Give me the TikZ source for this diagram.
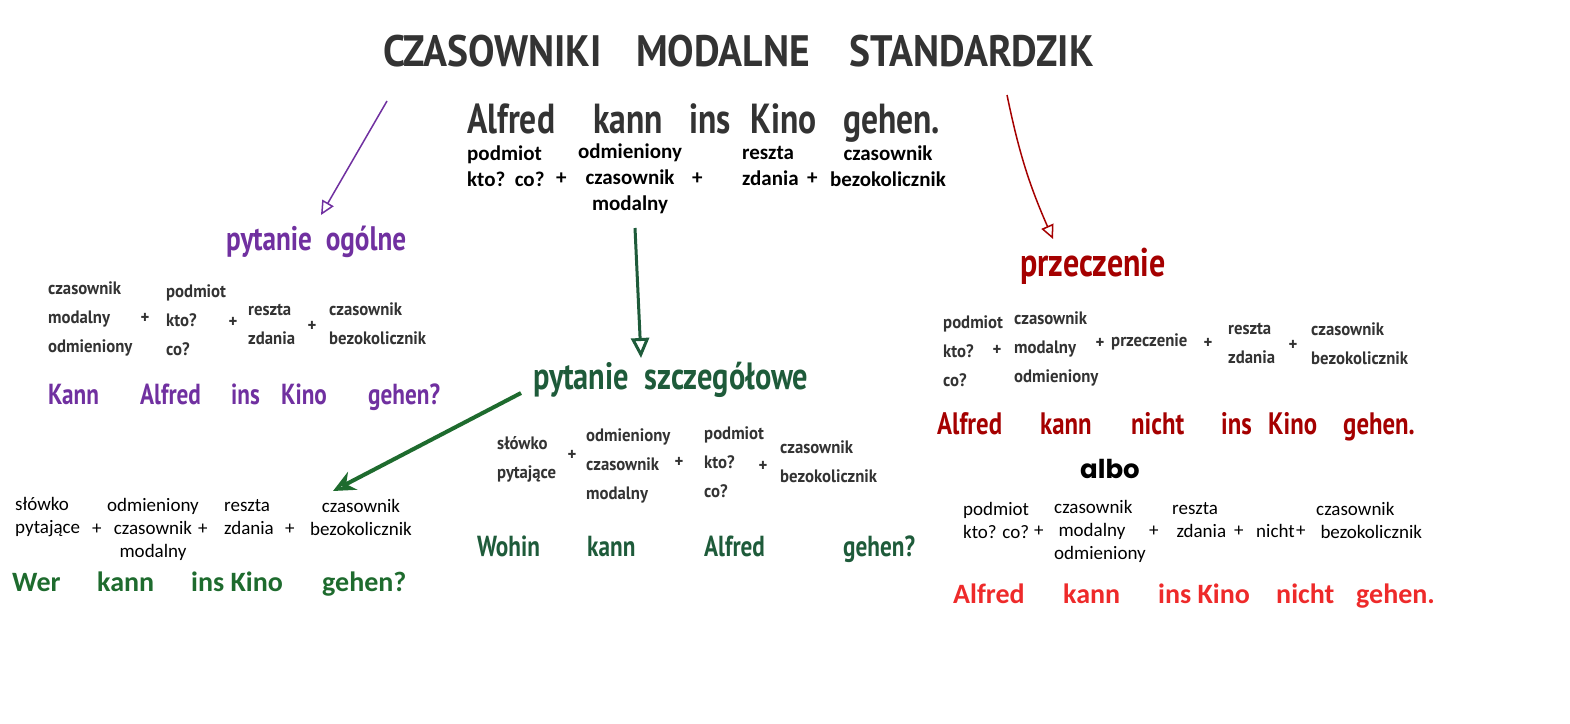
\documentclass[tikz,border=0pt]{standalone}
\usepackage{fontspec}
\usepackage{xcolor}
\usepackage{tikz}
\usetikzlibrary{arrows.meta,positioning}
\newfontfamily\handfont[FakeStretch=0.8]{PT Sans}
\newfontfamily\titlefont[FakeStretch=0.9]{PT Sans}
\newfontfamily\gramfont[FakeStretch=0.93]{PT Sans}
\newfontfamily\calfont{Carlito}
\newfontfamily\albofont{Poppins}
\definecolor{czgray}{HTML}{333333}
\definecolor{czpurple}{HTML}{7030A0}
\definecolor{czgreen}{HTML}{1E5B3A}
\definecolor{czgreenb}{HTML}{1E6B2E}
\definecolor{czred}{HTML}{A50000}
\definecolor{czbright}{HTML}{EE2A2A}
\tikzset{%
  czword/.style={%
    inner sep=0pt,
    anchor=base west
  },
  cztitle/.style={%
    czword,
    text=czgray,
    font=\titlefont\bfseries\fontsize{44}{50}\selectfont
  },
  czmain/.style={%
    czword,
    text=czgray,
    font=\handfont\bfseries\fontsize{42}{48}\selectfont
  },
  czhead/.style={%
    czword,
    font=\handfont\bfseries\fontsize{34}{40}\selectfont
  },
  czsent/.style={%
    czword,
    font=\handfont\bfseries\fontsize{29}{34}\selectfont
  },
  czredsent/.style={%
    czsent,
    text=czred,
    font=\handfont\bfseries\fontsize{31}{36}\selectfont
  },
  czgram/.style={%
    inner sep=0pt,
    anchor=west,
    align=left,
    text=czgray,
    font=\gramfont\bfseries\fontsize{18}{29}\selectfont
  },
  czplus/.style={%
    inner sep=0pt,
    text=czgray,
    font=\gramfont\bfseries\fontsize{18}{20}\selectfont
  },
  czcal/.style={%
    inner sep=0pt,
    anchor=west,
    align=left,
    font=\calfont\fontsize{19}{23}\selectfont
  },
  czcalbf/.style={%
    czcal,
    font=\calfont\bfseries\fontsize{21}{26}\selectfont
  },
  czcalsent/.style={%
    czword,
    font=\calfont\bfseries\fontsize{28}{32}\selectfont
  },
  czarrow/.style={-{Triangle[open,length=14pt,width=13pt]},line width=1.5pt},
  czbigarrow/.style={-{Triangle[open,length=20pt,width=18pt]},line width=3pt}
}

\begin{document}
\begin{tikzpicture}[x=1pt,y=-1pt]
    \useasboundingbox[fill=white] (0,0) rectangle (1570,723);

    % title and model sentence
    \node[cztitle] (titleA) at (383,66) {CZASOWNIKI};
    \node[cztitle] (titleB) at (636,66) {MODALNE};
    \node[cztitle] (titleC) at (849,66) {STANDARDZIK};

    \node[czmain] (mAlfred) at (467,133) {Alfred};
    \node[czmain] (mKann) at (593,133) {kann};
    \node[czmain] (mIns) at (689,133) {ins};
    \node[czmain] (mKino) at (750,133) {Kino};
    \node[czmain] (mGehen) at (843,133) {gehen.};

    \node[czcalbf] (mPodmiot) at (467,166) {podmiot\\kto?\ \ co?};
    \node[czcalbf] (mPlusA) at (556,179) {+};
    \node[czcalbf,anchor=center,align=center] (mCzas) at (630,179) {odmieniony\\czasownik\\modalny};
    \node[czcalbf] (mPlusB) at (692,179) {+};
    \node[czcalbf] (mReszta) at (742,166) {reszta\\zdania};
    \node[czcalbf] (mPlusC) at (807,179) {+};
    \node[czcalbf,anchor=center,align=center] (mBezok) at (888,166) {czasownik\\bezokolicznik};

    % pytanie ogolne
    \coordinate (ogFrom) at (387,101);
    \coordinate (ogTo) at (321,215);
    \node[czhead,text=czpurple] (ogolne) at (226,250) {pytanie\ \ ogólne};
    \draw[czarrow,draw=czpurple] (ogFrom) -- (ogTo);

    \node[czgram] (ogCzas) at (48,319) {czasownik\\modalny\\odmieniony};
    \node[czplus] (ogPlusA) at (145,318) {+};
    \node[czgram] (ogPodmiot) at (166,320) {podmiot\\kto?\\co?};
    \node[czplus] (ogPlusB) at (233,322) {+};
    \node[czgram] (ogReszta) at (248,324) {reszta\\zdania};
    \node[czplus] (ogPlusC) at (312,326) {+};
    \node[czgram] (ogBezok) at (329,324) {czasownik\\bezokolicznik};

    \node[czsent,text=czpurple] (ogKann) at (48,404) {Kann};
    \node[czsent,text=czpurple] (ogAlfred) at (140,404) {Alfred};
    \node[czsent,text=czpurple] (ogIns) at (231,404) {ins};
    \node[czsent,text=czpurple] (ogKino) at (281,404) {Kino};
    \node[czsent,text=czpurple] (ogGehen) at (368,404) {gehen?};

    % pytanie szczegolowe
    \coordinate (szFrom) at (635,228);
    \coordinate (szTo) at (641,358);
    \node[czhead,text=czgreen,font=\handfont\bfseries\fontsize{38}{44}\selectfont] (szczeg) at (533,389) {pytanie\ \ szczegółowe};
    \draw[czbigarrow,draw=czgreen] (szFrom) -- (szTo);

    \node[czgram] (szSlowko) at (497,459) {słówko\\pytające};
    \node[czplus] (szPlusA) at (572,455) {+};
    \node[czgram] (szCzas) at (586,466) {odmieniony\\czasownik\\modalny};
    \node[czplus] (szPlusB) at (679,462) {+};
    \node[czgram] (szPodmiot) at (704,462) {podmiot\\kto?\\co?};
    \node[czplus] (szPlusC) at (763,466) {+};
    \node[czgram] (szBezok) at (780,462) {czasownik\\bezokolicznik};

    \node[czsent,text=czgreen] (szWohin) at (477,556) {Wohin};
    \node[czsent,text=czgreen] (szKann) at (587,556) {kann};
    \node[czsent,text=czgreen] (szAlfred) at (704,556) {Alfred};
    \node[czsent,text=czgreen] (szGehen) at (843,556) {gehen?};

    % wer-frage
    \coordinate (werFrom) at (521,393);
    \coordinate (werTo) at (333,491);
    \draw[-{Stealth[length=22pt,width=20pt,open]},line width=4pt,draw=czgreenb] (werFrom) -- (werTo);

    \node[czcal] (werSlowko) at (15,517) {słówko\\pytające};
    \node[czcal] (werPlusA) at (92,529) {+};
    \node[czcal,anchor=center,align=center] (werCzas) at (153,529) {odmieniony\\czasownik\\modalny};
    \node[czcal] (werPlusB) at (198,529) {+};
    \node[czcal] (werReszta) at (224,517) {reszta\\zdania};
    \node[czcal] (werPlusC) at (285,529) {+};
    \node[czcal,anchor=center,align=center] (werBezok) at (361,517) {czasownik\\bezokolicznik};

    \node[czcalsent,text=czgreenb] (werWer) at (12,591) {Wer};
    \node[czcalsent,text=czgreenb] (werKann) at (97,591) {kann};
    \node[czcalsent,text=czgreenb] (werKino) at (191,591) {ins Kino};
    \node[czcalsent,text=czgreenb] (werGehen) at (322,591) {gehen?};

    % przeczenie
    \coordinate (prFrom) at (1007,95);
    \coordinate (prTo) at (1053,239);
    \node[czhead,text=czred,font=\handfont\bfseries\fontsize{40}{46}\selectfont] (przecz) at (1020,276) {przeczenie};
    \draw[czarrow,draw=czred] (prFrom) to[bend right=6] (prTo);

    \node[czgram] (prPodmiot) at (943,351) {podmiot\\kto?\\co?};
    \node[czplus] (prPlusA) at (997,350) {+};
    \node[czgram] (prCzas) at (1014,349) {czasownik\\modalny\\odmieniony};
    \node[czplus] (prPlusB) at (1100,343) {+};
    \node[czgram] (prNicht) at (1111,342) {przeczenie};
    \node[czplus] (prPlusC) at (1208,343) {+};
    \node[czgram] (prReszta) at (1228,343) {reszta\\zdania};
    \node[czplus] (prPlusD) at (1293,345) {+};
    \node[czgram] (prBezok) at (1311,344) {czasownik\\bezokolicznik};

    \node[czredsent] (prAlfred) at (937,434) {Alfred};
    \node[czredsent] (prKann) at (1040,434) {kann};
    \node[czredsent] (prNichtW) at (1131,434) {nicht};
    \node[czredsent] (prIns) at (1221,434) {ins};
    \node[czredsent] (prKino) at (1268,434) {Kino};
    \node[czredsent] (prGehen) at (1343,434) {gehen.};

    % albo
    \node[czword,font=\albofont\bfseries\fontsize{26}{30}\selectfont] (albo) at (1080,478) {albo};

    \node[czcal] (alPodmiot) at (963,520) {podmiot\\kto? co?};
    \node[czcal] (alPlusA) at (1034,531) {+};
    \node[czcal] (alCzas) at (1054,531) {czasownik\\\ modalny\\odmieniony};
    \node[czcal] (alPlusB) at (1149,531) {+};
    \node[czcal] (alReszta) at (1172,520) {reszta\\\ zdania};
    \node[czcal] (alPlusC) at (1234,531) {+};
    \node[czcal] (alNicht) at (1256,531) {nicht};
    \node[czcal] (alPlusD) at (1296,531) {+};
    \node[czcal] (alBezok) at (1316,520) {czasownik\\\ bezokolicznik};

    \node[czcalsent,text=czbright] (alAlfred) at (953,603) {Alfred};
    \node[czcalsent,text=czbright] (alKann) at (1063,603) {kann};
    \node[czcalsent,text=czbright] (alKino) at (1158,603) {ins Kino};
    \node[czcalsent,text=czbright] (alNichtW) at (1276,603) {nicht};
    \node[czcalsent,text=czbright] (alGehen) at (1356,603) {gehen.};
  \end{tikzpicture}
\end{document}
